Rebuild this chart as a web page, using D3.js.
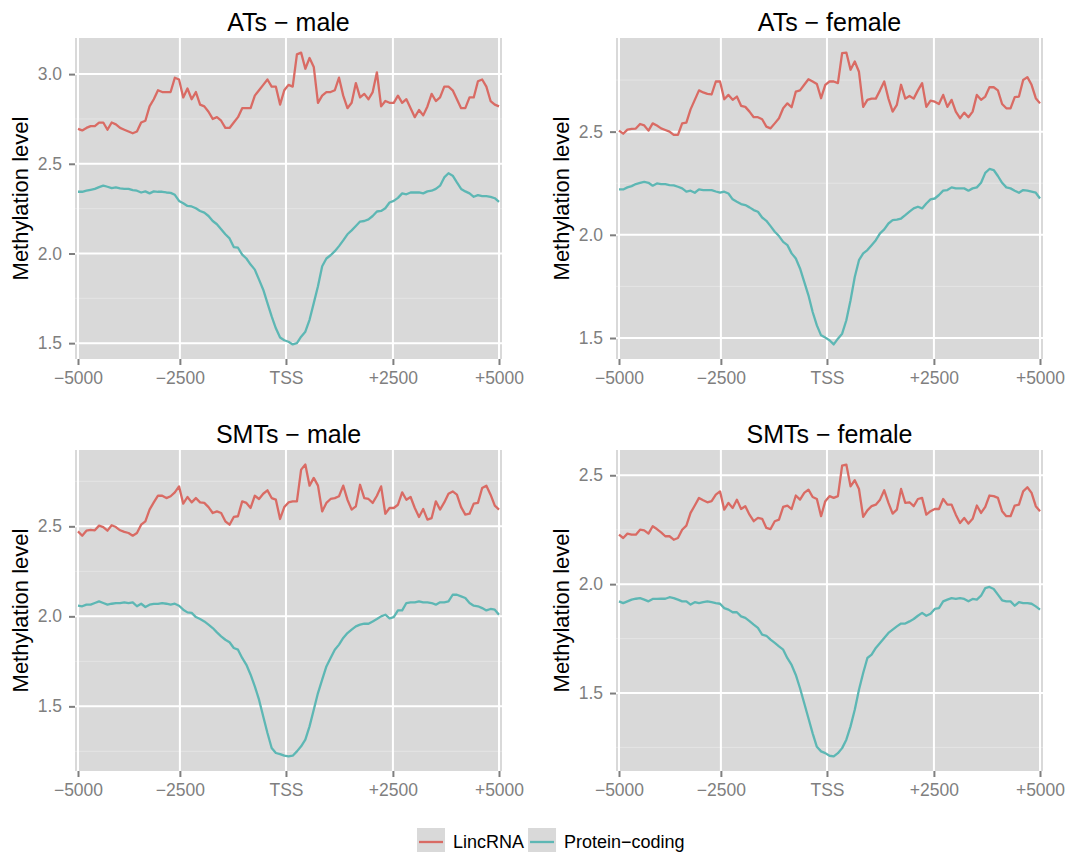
<!DOCTYPE html>
<html>
<head>
<meta charset="utf-8">
<script src="https://cdn.jsdelivr.net/npm/d3@7"></script>
<style>
  body { margin: 0; background: #fff; }
  text { font-family: "Liberation Sans", Arial, Helvetica, sans-serif; }
</style>
</head>
<body>
<svg id="chart" width="1084" height="852"></svg>
<script>
const PANELS = ['ATs − male', 'ATs − female', 'SMTs − male', 'SMTs − female']
const SERIES = ['LincRNA', 'Protein−coding']
const COLORS = ['#d96b64', '#5db7b4']
const X_LABELS = ['−5000', '−2500', 'TSS', '+2500', '+5000']
const X_AT = [0, 24.2, 49.4, 74.8, 100]   // bin positions of the tick labels
const Y_TICKS = [[1.5, 2, 2.5, 3], [1.5, 2, 2.5], [1.5, 2, 2.5], [1.5, 2, 2.5]]

// 101 bins from -5000 to +5000 around the TSS
const atMaleLinc = [2.695,2.686,2.70,2.71,2.71,2.73,2.73,2.69,2.73,2.72,
  2.70,2.69,2.68,2.67,2.68,2.73,2.74,2.82,2.86,2.91,
  2.90,2.90,2.90,2.98,2.97,2.87,2.92,2.86,2.90,2.83,
  2.82,2.79,2.75,2.76,2.74,2.70,2.70,2.73,2.76,2.81,
  2.81,2.81,2.88,2.91,2.94,2.97,2.93,2.93,2.83,2.91,
  2.94,2.93,3.11,3.12,3.03,3.09,3.04,2.84,2.88,2.90,
  2.90,2.91,2.98,2.88,2.81,2.84,2.95,2.87,2.89,2.86,
  2.90,3.01,2.82,2.85,2.84,2.84,2.88,2.84,2.86,2.81,
  2.76,2.80,2.77,2.82,2.89,2.85,2.87,2.93,2.93,2.91,
  2.86,2.81,2.81,2.87,2.87,2.96,2.97,2.93,2.85,2.83,2.82]
const atMaleCoding = [2.344,2.344,2.35,2.355,2.36,2.37,2.378,2.372,2.364,2.368,
  2.363,2.36,2.36,2.353,2.35,2.34,2.346,2.335,2.346,2.344,
  2.344,2.34,2.338,2.327,2.293,2.28,2.265,2.262,2.252,2.237,
  2.228,2.209,2.181,2.163,2.135,2.107,2.084,2.036,2.032,1.994,
  1.972,1.938,1.91,1.854,1.798,1.723,1.649,1.583,1.531,1.516,
  1.508,1.493,1.50,1.536,1.564,1.63,1.723,1.817,1.929,1.972,
  1.99,2.013,2.041,2.073,2.107,2.129,2.153,2.178,2.181,2.19,
  2.209,2.234,2.237,2.252,2.284,2.293,2.31,2.335,2.33,2.34,
  2.34,2.34,2.335,2.346,2.35,2.36,2.378,2.424,2.447,2.434,
  2.396,2.36,2.346,2.335,2.316,2.325,2.32,2.32,2.316,2.308,2.288]
const atFemaleLinc = [2.505,2.49,2.51,2.513,2.515,2.537,2.53,2.505,2.54,2.53,
  2.516,2.508,2.50,2.484,2.484,2.54,2.544,2.608,2.654,2.70,
  2.69,2.683,2.68,2.743,2.743,2.657,2.678,2.654,2.67,2.625,
  2.62,2.597,2.57,2.57,2.56,2.524,2.516,2.54,2.565,2.613,
  2.637,2.618,2.694,2.70,2.727,2.754,2.743,2.731,2.662,2.727,
  2.743,2.743,2.735,2.88,2.883,2.80,2.84,2.79,2.62,2.654,
  2.66,2.66,2.70,2.743,2.66,2.597,2.63,2.727,2.66,2.673,
  2.66,2.70,2.735,2.62,2.65,2.645,2.634,2.678,2.62,2.654,
  2.597,2.565,2.592,2.57,2.597,2.678,2.654,2.67,2.715,2.715,
  2.70,2.634,2.613,2.613,2.667,2.67,2.75,2.764,2.727,2.662,2.637]
const atFemaleCoding = [2.22,2.22,2.23,2.236,2.246,2.252,2.257,2.252,2.238,2.249,
  2.246,2.246,2.241,2.24,2.233,2.225,2.209,2.214,2.204,2.22,
  2.217,2.217,2.217,2.21,2.204,2.209,2.20,2.172,2.16,2.149,
  2.144,2.133,2.12,2.112,2.084,2.068,2.042,2.015,1.994,1.966,
  1.95,1.91,1.885,1.837,1.772,1.707,1.626,1.561,1.513,1.502,
  1.489,1.469,1.497,1.521,1.586,1.683,1.796,1.877,1.91,1.926,
  1.95,1.974,2.007,2.026,2.055,2.071,2.074,2.079,2.095,2.112,
  2.128,2.136,2.128,2.152,2.172,2.176,2.193,2.214,2.217,2.23,
  2.225,2.225,2.225,2.214,2.225,2.23,2.252,2.30,2.319,2.314,
  2.285,2.252,2.23,2.225,2.214,2.204,2.217,2.214,2.209,2.204,2.176]
const smtMaleLinc = [2.472,2.448,2.476,2.48,2.478,2.504,2.496,2.476,2.506,2.496,
  2.478,2.469,2.463,2.448,2.463,2.509,2.528,2.593,2.633,2.67,
  2.67,2.657,2.667,2.689,2.722,2.626,2.663,2.633,2.657,2.633,
  2.63,2.607,2.574,2.583,2.574,2.528,2.509,2.552,2.556,2.639,
  2.63,2.602,2.67,2.652,2.681,2.70,2.657,2.648,2.541,2.607,
  2.633,2.639,2.639,2.815,2.843,2.726,2.769,2.726,2.583,2.63,
  2.652,2.657,2.667,2.726,2.648,2.593,2.611,2.731,2.657,2.652,
  2.63,2.67,2.722,2.57,2.602,2.602,2.62,2.689,2.648,2.663,
  2.602,2.552,2.596,2.537,2.546,2.639,2.593,2.633,2.681,2.694,
  2.676,2.607,2.565,2.57,2.626,2.63,2.713,2.726,2.676,2.615,2.593]
const smtMaleCoding = [2.059,2.056,2.065,2.065,2.074,2.083,2.074,2.065,2.07,2.074,
  2.074,2.078,2.074,2.078,2.056,2.07,2.052,2.065,2.069,2.069,
  2.074,2.07,2.065,2.07,2.059,2.037,2.022,2.019,1.996,1.985,
  1.972,1.954,1.935,1.911,1.889,1.870,1.856,1.824,1.815,1.769,
  1.731,1.676,1.611,1.537,1.444,1.352,1.269,1.241,1.235,1.226,
  1.222,1.226,1.25,1.278,1.315,1.389,1.481,1.574,1.648,1.722,
  1.769,1.815,1.843,1.88,1.907,1.926,1.944,1.954,1.959,1.959,
  1.972,1.985,2.00,2.009,1.989,1.996,2.033,2.033,2.074,2.078,
  2.078,2.083,2.078,2.078,2.074,2.065,2.078,2.078,2.083,2.12,
  2.12,2.111,2.102,2.074,2.059,2.056,2.046,2.033,2.041,2.037,2.009]
const smtFemaleLinc = [2.227,2.212,2.232,2.227,2.227,2.25,2.247,2.232,2.266,2.253,
  2.238,2.22,2.22,2.204,2.212,2.25,2.269,2.327,2.361,2.396,
  2.385,2.376,2.381,2.411,2.426,2.342,2.373,2.35,2.388,2.345,
  2.358,2.319,2.289,2.304,2.30,2.258,2.253,2.289,2.296,2.355,
  2.361,2.345,2.407,2.388,2.419,2.434,2.40,2.391,2.312,2.381,
  2.404,2.396,2.404,2.544,2.549,2.449,2.477,2.437,2.309,2.339,
  2.358,2.365,2.388,2.431,2.373,2.324,2.342,2.437,2.373,2.376,
  2.358,2.391,2.396,2.319,2.335,2.345,2.345,2.391,2.365,2.365,
  2.319,2.281,2.304,2.278,2.30,2.361,2.327,2.355,2.407,2.404,
  2.396,2.335,2.312,2.312,2.361,2.365,2.426,2.445,2.419,2.358,2.335]
const smtFemaleCoding = [1.921,1.913,1.921,1.929,1.933,1.936,1.929,1.921,1.932,1.932,
  1.933,1.933,1.94,1.936,1.929,1.921,1.921,1.906,1.917,1.913,
  1.917,1.921,1.917,1.913,1.91,1.89,1.883,1.871,1.871,1.852,
  1.845,1.83,1.814,1.799,1.768,1.763,1.745,1.73,1.714,1.699,
  1.66,1.629,1.583,1.522,1.453,1.384,1.315,1.253,1.232,1.224,
  1.212,1.209,1.224,1.247,1.286,1.347,1.423,1.515,1.592,1.661,
  1.676,1.707,1.73,1.753,1.776,1.791,1.806,1.819,1.819,1.829,
  1.84,1.855,1.868,1.855,1.864,1.886,1.89,1.921,1.929,1.936,
  1.932,1.936,1.932,1.921,1.932,1.929,1.947,1.982,1.987,1.978,
  1.952,1.926,1.921,1.921,1.901,1.917,1.913,1.913,1.91,1.898,1.883]

const panelData = [
  [atMaleLinc, atMaleCoding],
  [atFemaleLinc, atFemaleCoding],
  [smtMaleLinc, smtMaleCoding],
  [smtFemaleLinc, smtFemaleCoding]
]

const svg = d3.select('#chart')
const boxes = [[75, 38], [616, 38], [75, 450], [616, 450]]
const pw = 427, ph = 321

const drawPanel = (i) => {
  const [gx, gy] = boxes[i]
  const series = panelData[i]
  const g = svg.append('g')

  const x = d3.scaleLinear()
    .domain([0, 100])
    .range([gx + 3, gx + pw - 3])

  // ggplot style 5% expansion
  const ext = d3.extent(series.flat())
  const pad = (ext[1] - ext[0]) * 0.05
  const y = d3.scaleLinear()
    .domain([ext[0] - pad, ext[1] + pad])
    .range([gy + ph, gy])

  g.append('rect')
    .attr('x', gx).attr('y', gy)
    .attr('width', pw).attr('height', ph)
    .attr('fill', '#d9d9d9')

  const major = Y_TICKS[i]
  const step = major[1] - major[0]
  const minor = d3.range(major[0] - step / 2, major[major.length - 1] + step, step)
    .filter(v => v > y.domain()[0] && v < y.domain()[1])

  g.selectAll('.minor')
    .data(minor)
    .enter()
    .append('line')
      .attr('x1', gx).attr('x2', gx + pw)
      .attr('y1', d => y(d)).attr('y2', d => y(d))
      .attr('stroke', '#e4e4e4')
      .attr('stroke-width', 1)

  g.selectAll('.hgrid')
    .data(major)
    .enter()
    .append('line')
      .attr('x1', gx).attr('x2', gx + pw)
      .attr('y1', d => y(d)).attr('y2', d => y(d))
      .attr('stroke', '#fff')
      .attr('stroke-width', 2)

  g.selectAll('.vgrid')
    .data(X_AT)
    .enter()
    .append('line')
      .attr('x1', d => x(d)).attr('x2', d => x(d))
      .attr('y1', gy).attr('y2', gy + ph)
      .attr('stroke', '#fff')
      .attr('stroke-width', 2)

  const line = d3.line()
    .x((d, j) => x(j))
    .y(d => y(d))

  series.forEach((vals, s) => {
    g.append('path')
      .datum(vals)
      .attr('d', line)
      .attr('fill', 'none')
      .attr('stroke', COLORS[s])
      .attr('stroke-width', 2.3)
      .attr('stroke-linejoin', 'round')
  })

  const yAxis = g.append('g')
    .attr('transform', `translate(${gx}, 0)`)
    .call(d3.axisLeft(y)
      .tickValues(major)
      .tickFormat(d3.format('.1f'))
      .tickSize(6)
      .tickPadding(7))

  const xAxis = g.append('g')
    .attr('transform', `translate(0, ${gy + ph})`)
    .call(d3.axisBottom(x)
      .tickValues(X_AT)
      .tickFormat((d, k) => X_LABELS[k])
      .tickSize(6)
      .tickPadding(7))

  ;[yAxis, xAxis].forEach(a => {
    a.select('.domain').remove()
    a.selectAll('line').attr('stroke', '#7f7f7f').attr('stroke-width', 2)
    a.selectAll('text')
      .attr('fill', '#7f7f7f')
      .style('font-size', '17.5px')
  })

  g.append('text')
    .attr('x', gx + pw / 2)
    .attr('y', gy - 7)
    .attr('text-anchor', 'middle')
    .style('font-size', '25px')
    .attr('fill', '#000')
    .text(PANELS[i])

  g.append('text')
    .attr('transform', `translate(${gx - 47}, ${gy + ph / 2}) rotate(-90)`)
    .attr('text-anchor', 'middle')
    .style('font-size', '22px')
    .attr('fill', '#000')
    .text('Methylation level')
}

PANELS.forEach((p, i) => drawPanel(i))

// legend at the bottom
const legend = svg.append('g')
let lx = 417
SERIES.forEach((name, s) => {
  legend.append('rect')
    .attr('x', lx).attr('y', 828)
    .attr('width', 28).attr('height', 28)
    .attr('fill', '#d9d9d9')
  legend.append('line')
    .attr('x1', lx + 2).attr('x2', lx + 26)
    .attr('y1', 842).attr('y2', 842)
    .attr('stroke', COLORS[s])
    .attr('stroke-width', 2.3)
  const t = legend.append('text')
    .attr('x', lx + 36)
    .attr('y', 848)
    .style('font-size', '18px')
    .attr('fill', '#000')
    .text(name)
  lx += 36 + t.node().getComputedTextLength() + 4
})
</script>
</body>
</html>
